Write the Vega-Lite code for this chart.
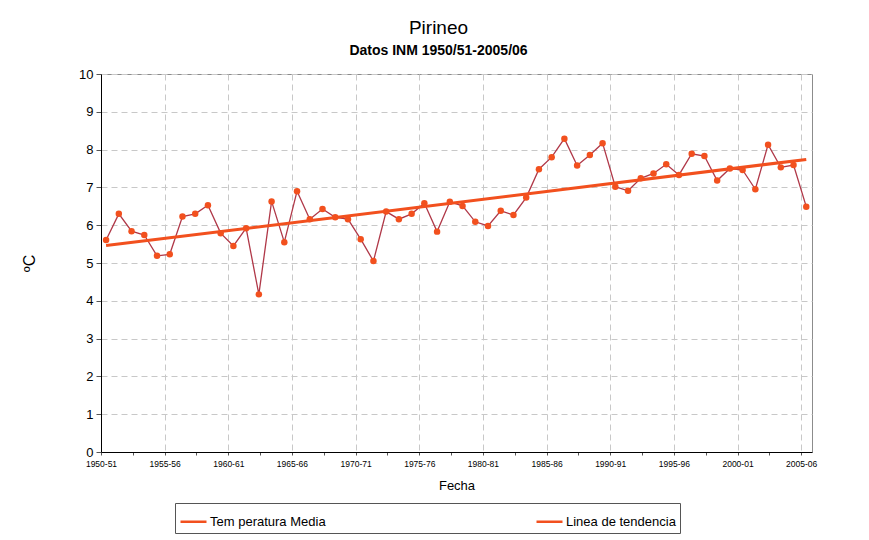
{
  "$schema": "https://vega.github.io/schema/vega-lite/v6.json",
  "autosize": {"type": "none"},
  "padding": {"left": 101, "top": 74, "right": 57, "bottom": 88},
  "width": 711,
  "height": 378,
  "background": "white",
  "config": {
    "font": "Liberation Sans",
    "view": {"stroke": "#8c8c8c", "strokeWidth": 1}
  },
  "title": {
    "text": "Pirineo",
    "subtitle": "Datos INM 1950/51-2005/06",
    "anchor": "middle",
    "dx": -18,
    "offset": 10,
    "font": "Liberation Sans",
    "fontSize": 19,
    "fontWeight": "normal",
    "color": "#000",
    "subtitleFont": "Liberation Sans",
    "subtitleFontSize": 14,
    "subtitleFontWeight": "bold",
    "subtitleColor": "#000",
    "subtitlePadding": 6
  },
  "datasets": {
    "temps": [
      {"year": 1950, "temp": 5.61}, {"year": 1951, "temp": 6.30}, {"year": 1952, "temp": 5.84},
      {"year": 1953, "temp": 5.74}, {"year": 1954, "temp": 5.19}, {"year": 1955, "temp": 5.23},
      {"year": 1956, "temp": 6.23}, {"year": 1957, "temp": 6.30}, {"year": 1958, "temp": 6.53},
      {"year": 1959, "temp": 5.79}, {"year": 1960, "temp": 5.45}, {"year": 1961, "temp": 5.92},
      {"year": 1962, "temp": 4.17}, {"year": 1963, "temp": 6.63}, {"year": 1964, "temp": 5.55},
      {"year": 1965, "temp": 6.90}, {"year": 1966, "temp": 6.16}, {"year": 1967, "temp": 6.43},
      {"year": 1968, "temp": 6.21}, {"year": 1969, "temp": 6.16}, {"year": 1970, "temp": 5.63},
      {"year": 1971, "temp": 5.05}, {"year": 1972, "temp": 6.36}, {"year": 1973, "temp": 6.16},
      {"year": 1974, "temp": 6.30}, {"year": 1975, "temp": 6.58}, {"year": 1976, "temp": 5.83},
      {"year": 1977, "temp": 6.62}, {"year": 1978, "temp": 6.51}, {"year": 1979, "temp": 6.09},
      {"year": 1980, "temp": 5.98}, {"year": 1981, "temp": 6.38}, {"year": 1982, "temp": 6.27},
      {"year": 1983, "temp": 6.73}, {"year": 1984, "temp": 7.48}, {"year": 1985, "temp": 7.80},
      {"year": 1986, "temp": 8.29}, {"year": 1987, "temp": 7.58}, {"year": 1988, "temp": 7.86},
      {"year": 1989, "temp": 8.17}, {"year": 1990, "temp": 7.02}, {"year": 1991, "temp": 6.91},
      {"year": 1992, "temp": 7.24}, {"year": 1993, "temp": 7.37}, {"year": 1994, "temp": 7.61},
      {"year": 1995, "temp": 7.33}, {"year": 1996, "temp": 7.89}, {"year": 1997, "temp": 7.83},
      {"year": 1998, "temp": 7.18}, {"year": 1999, "temp": 7.50}, {"year": 2000, "temp": 7.46},
      {"year": 2001, "temp": 6.95}, {"year": 2002, "temp": 8.13}, {"year": 2003, "temp": 7.53},
      {"year": 2004, "temp": 7.59}, {"year": 2005, "temp": 6.49}
    ],
    "trend": [
      {"year": 1950, "temp": 5.46},
      {"year": 2005, "temp": 7.74}
    ]
  },
  "encoding": {
    "x": {
      "field": "year",
      "type": "quantitative",
      "scale": {"domain": [1949.6, 2005.45], "nice": false, "zero": false},
      "axis": {
        "title": "Fecha",
        "titleFont": "Liberation Sans",
        "titleFontSize": 13,
        "titleFontWeight": "normal",
        "titleColor": "#000",
        "titlePadding": 12,
        "values": [1949.6, 1952.1, 1954.6, 1957.1, 1959.6, 1962.1, 1964.6, 1967.1, 1969.6, 1972.1, 1974.6, 1977.1, 1979.6, 1982.1, 1984.6, 1987.1, 1989.6, 1992.1, 1994.6, 1997.1, 1999.6, 2002.1, 2004.6],
        "labelExpr": "round((datum.value - 1949.6) * 2) % 10 == 0 ? (toString(round(datum.value + 0.4)) + '-' + slice(toString(round(datum.value + 0.4) + 1), 2)) : ''",
        "labelFontSize": 8.5,
        "labelColor": "#000",
        "labelDx": 8,
        "labelPadding": 4,
        "labelOverlap": false,
        "labelFlush": false,
        "tickSize": 3,
        "tickColor": "#555",
        "domainColor": "#000",
        "grid": true,
        "gridColor": "#c8c8c8",
        "gridDash": [6, 4],
        "gridOpacity": {"condition": {"test": "round((datum.value - 1949.6) * 2) % 10 == 0", "value": 1}, "value": 0}
      }
    },
    "y": {
      "field": "temp",
      "type": "quantitative",
      "scale": {"domain": [0, 10], "nice": false},
      "axis": {
        "title": "ºC",
        "titleFont": "Liberation Sans",
        "titleFontSize": 16,
        "titleFontWeight": "normal",
        "titleColor": "#000",
        "titleX": -64,
        "titleY": 189,
        "values": [0, 1, 2, 3, 4, 5, 6, 7, 8, 9, 10],
        "labelFontSize": 13,
        "labelColor": "#000",
        "labelPadding": 3,
        "tickSize": 5,
        "tickColor": "#555",
        "domainColor": "#000",
        "grid": true,
        "gridColor": "#c8c8c8",
        "gridDash": [6, 4]
      }
    }
  },
  "layer": [
    {
      "data": {"name": "temps"},
      "mark": {"type": "line", "stroke": "#b03848", "strokeWidth": 1.3},
      "encoding": {}
    },
    {
      "data": {"name": "trend"},
      "mark": {"type": "line", "strokeWidth": 3},
      "encoding": {
        "color": {
          "datum": "Linea de tendencia",
          "type": "nominal",
          "scale": {"domain": ["Tem peratura Media", "Linea de tendencia"], "range": ["#f2501e", "#f2501e"]},
          "legend": {
            "title": null,
            "orient": "none",
            "direction": "horizontal",
            "legendX": 74,
            "legendY": 429,
            "padding": 4,
            "strokeColor": "#555",
            "fillColor": "white",
            "symbolType": "stroke",
            "symbolStrokeWidth": 2.5,
            "symbolSize": 676,
            "labelFont": "Liberation Sans",
            "labelFontSize": 13,
            "labelColor": "#000",
            "labelOffset": 2,
            "columnPadding": 205
          }
        }
      }
    },
    {
      "data": {"name": "temps"},
      "mark": {"type": "point", "filled": true, "size": 42, "opacity": 1},
      "encoding": {
        "color": {"datum": "Tem peratura Media", "type": "nominal"}
      }
    }
  ]
}
